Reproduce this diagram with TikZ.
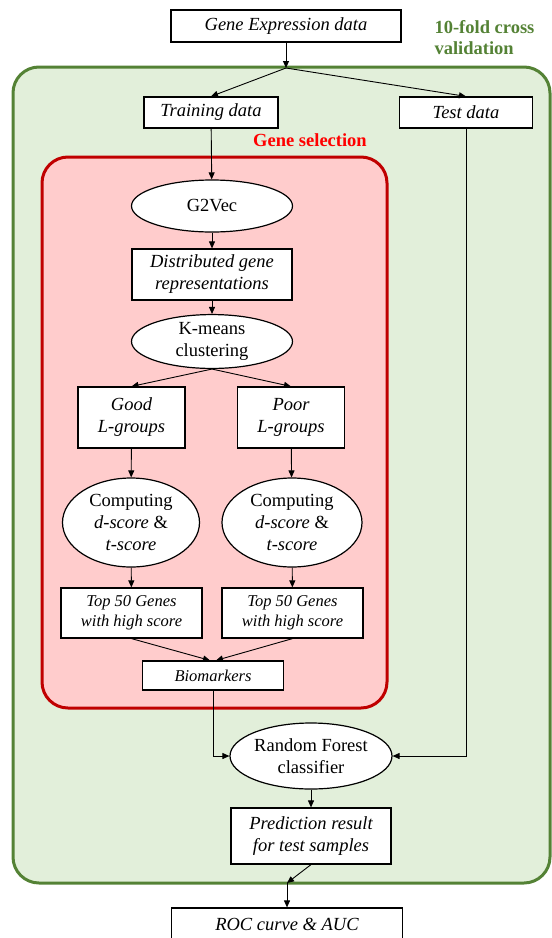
\documentclass[tikz,border=0pt]{standalone}
\usepackage{fontspec}
\setmainfont{Liberation Serif}
\usetikzlibrary{shapes.geometric,arrows.meta}
\definecolor{cvgreen}{HTML}{548235}
\definecolor{cvfill}{HTML}{E2EFDA}
\definecolor{gsred}{HTML}{C00000}
\definecolor{gsfill}{HTML}{FFCCCC}
\tikzset{
  databox/.style={draw, rectangle, fill=white, line width=1.2pt, inner sep=0pt,
    align=center, font=\fontsize{18.5}{22}\selectfont\itshape},
  smallbox/.style={databox, font=\fontsize{16.5}{20}\selectfont\itshape},
  stepell/.style={draw, ellipse, fill=white, line width=1.2pt, inner sep=0pt,
    align=center, font=\fontsize{18.5}{22}\selectfont},
  flow/.style={-{Triangle[length=7pt,width=6pt]}, line width=0.9pt},
}
\begin{document}
\begin{tikzpicture}[x=1pt, y=-1pt]
        \useasboundingbox (0,0) rectangle (552,938);
        
        % 交叉验证区域
        \draw[cvgreen, fill=cvfill, line width=3pt, rounded corners=26pt] (13,67) rectangle (550,883);
        \node[anchor=west, align=left, text=cvgreen, font=\fontsize{18.5}{21}\selectfont\bfseries] (cvlabel) at (431,37.5) {10-fold cross\\validation};
        
        % 基因选择区域
        \draw[gsred, fill=gsfill, line width=3pt, rounded corners=26pt] (42,157) rectangle (387,708);
        \node[text=red, font=\fontsize{18.5}{22}\selectfont\bfseries] (gslabel) at (310,140) {Gene selection};
        
        % 数据
        \node[databox, minimum width=230, minimum height=32] (expr) at (286,26) {Gene Expression data};
        \coordinate (split) at (286,68);
        \node[databox, minimum width=134, minimum height=31] (train) at (211,112.5) {Training data};
        \node[databox, minimum width=133, minimum height=31] (test) at (466,112.5) {Test data};
        
        % 基因选择步骤
        \node[stepell, minimum width=161, minimum height=52] (g2vec) at (212,206) {G2Vec};
        \node[databox, minimum width=160, minimum height=51] (dist) at (212,274.5) {Distributed gene\\representations};
        \node[stepell, minimum width=161, minimum height=53] (kmeans) at (212,341.5) {K-means\\clustering};
        \node[databox, minimum width=107, minimum height=61] (good) at (131.5,417.5) {Good\\L-groups};
        \node[databox, minimum width=107, minimum height=61] (poor) at (291,417.5) {Poor\\L-groups};
        \node[stepell, minimum width=137, minimum height=89] (compgood) at (131,522.5) {Computing\\\textit{d-score} \&\\\textit{t-score}};
        \node[stepell, minimum width=140, minimum height=89] (comppoor) at (292,522.5) {Computing\\\textit{d-score} \&\\\textit{t-score}};
        \node[smallbox, minimum width=141, minimum height=50] (topgood) at (131.5,613) {Top 50 Genes\\with high score};
        \node[smallbox, minimum width=141, minimum height=50] (toppoor) at (292.5,613) {Top 50 Genes\\with high score};
        \node[smallbox, minimum width=141, minimum height=29] (bio) at (213,675.5) {Biomarkers};
        
        % 分类与评估
        \node[stepell, minimum width=162, minimum height=66] (rf) at (311,756) {Random Forest\\classifier};
        \node[databox, minimum width=160, minimum height=56] (pred) at (311,836) {Prediction result\\for test samples};
        \coordinate (out) at (287,883);
        \node[databox, minimum width=231, minimum height=32] (roc) at (287,924) {ROC curve \& AUC};
        
        % 箭头
        \draw[flow] (expr) -- (split);
        \draw[flow] (split) -- (train.north);
        \draw[flow] (split) -- (test.north);
        \draw[flow] (train) -- (g2vec);
        \draw[flow] (g2vec) -- (dist);
        \draw[flow] (dist) -- (kmeans);
        \draw[flow] (kmeans.south) -- (good.north);
        \draw[flow] (kmeans.south) -- (poor.north);
        \draw[flow] (good) -- (compgood);
        \draw[flow] (poor) -- (comppoor);
        \draw[flow] (compgood) -- (topgood);
        \draw[flow] (comppoor) -- (toppoor);
        \draw[flow] (topgood.south) -- ([xshift=-3pt]bio.north);
        \draw[flow] (toppoor.south) -- ([xshift=3pt]bio.north);
        \draw[flow] (bio) |- (rf.west);
        \draw[flow] (test) |- (rf.east);
        \draw[flow] (rf) -- (pred);
        \draw[flow] (pred.south) -- (out);
        \draw[flow] (out) -- (roc);
    \end{tikzpicture}
\end{document}
